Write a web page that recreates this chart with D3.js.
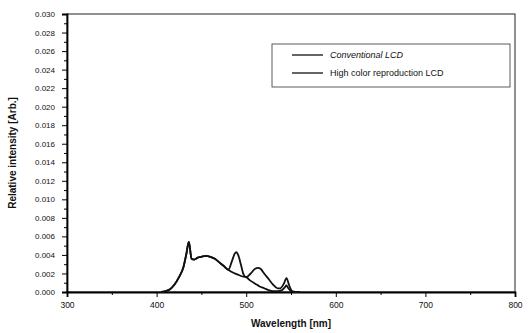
<!DOCTYPE html>
<html>
<head>
<meta charset="utf-8">
<script src="https://cdn.jsdelivr.net/npm/d3@7"></script>
<style>
  body { margin: 0; background: #fff; }
  text { font-family: Arial, "Liberation Sans", sans-serif; fill: #111; }
</style>
</head>
<body>
<div id="graph"></div>
<script>
//series data (wavelength in nm, intensity in Arb.)
let convWl  = [405, 410, 415, 420, 425, 430, 433, 436, 439, 442, 446, 450, 455, 460, 465, 470, 475, 480, 485, 490, 495, 500, 505, 510, 515, 520, 525, 530, 535, 540, 543, 545, 547, 550, 555, 560];
let convVal = [0, 0.0001, 0.0003, 0.0008, 0.0016, 0.0027, 0.0040, 0.0054, 0.0036, 0.0035, 0.0037, 0.0038, 0.0039, 0.0038, 0.0036, 0.0032, 0.0028, 0.0024, 0.0021, 0.0019, 0.0017, 0.0016, 0.0012, 0.0009, 0.0006, 0.0004, 0.0002, 0.0001, 0.0001, 0.0002, 0.0005, 0.0007, 0.0004, 0.0001, 0, 0];

let highWl  = [405, 410, 415, 420, 425, 430, 433, 436, 439, 442, 446, 450, 455, 460, 465, 470, 475, 480, 484, 487, 489, 491, 494, 497, 500, 505, 510, 513, 516, 520, 525, 530, 535, 538, 542, 545, 548, 551, 555, 560];
let highVal = [0, 0.0001, 0.0003, 0.0008, 0.0016, 0.0027, 0.0040, 0.0054, 0.0036, 0.0035, 0.0037, 0.0038, 0.0039, 0.0038, 0.0036, 0.0032, 0.0028, 0.0024, 0.0033, 0.0041, 0.0043, 0.0040, 0.0030, 0.0019, 0.0016, 0.0020, 0.0025, 0.0026, 0.0025, 0.0020, 0.0014, 0.0008, 0.0004, 0.0004, 0.0009, 0.0015, 0.0007, 0.0001, 0, 0];

let seriesNames = ["Conventional LCD", "High color reproduction LCD"];
let xTicks = [300, 400, 500, 600, 700, 800];
let yTicks = [0, 0.002, 0.004, 0.006, 0.008, 0.010, 0.012, 0.014, 0.016, 0.018, 0.020, 0.022, 0.024, 0.026, 0.028, 0.030];

let width = 528, height = 333;
let margin = {top: 14, right: 13, bottom: 41, left: 67};
let plotW = width - margin.left - margin.right;
let plotH = height - margin.top - margin.bottom;

let svg = d3.select("#graph")
    .append("svg")
    .attr("width", width)
    .attr("height", height)
    .append("g")
    .attr("transform", `translate(${margin.left},${margin.top})`);

//scales
let x = d3.scaleLinear().domain([300, 800]).range([0, plotW]);
let y = d3.scaleLinear().domain([0, 0.030]).range([plotH, 0]);

//frame (top and right)
svg.append("rect")
    .attr("width", plotW)
    .attr("height", plotH)
    .attr("fill", "none")
    .attr("stroke", "#222")
    .attr("stroke-width", 1);

//minor ticks
svg.append("g")
    .attr("transform", `translate(0,${plotH})`)
    .call(d3.axisBottom(x).tickValues(d3.range(350, 800, 100)).tickSize(3).tickFormat(""))
    .call(g => g.select(".domain").remove());
svg.append("g")
    .call(d3.axisLeft(y).tickValues(d3.range(0.001, 0.030, 0.002)).tickSize(3).tickFormat(""))
    .call(g => g.select(".domain").remove());

//x axis
svg.append("g")
    .attr("transform", `translate(0,${plotH})`)
    .call(d3.axisBottom(x).tickValues(xTicks).tickSize(5).tickPadding(5).tickFormat(d3.format("d")))
    .call(g => g.select(".domain").attr("stroke-width", 1.8))
    .call(g => g.selectAll("text").style("font-size", "8.5px"));

//y axis
svg.append("g")
    .call(d3.axisLeft(y).tickValues(yTicks).tickSize(5).tickPadding(7).tickFormat(d3.format(".3f")))
    .call(g => g.select(".domain").attr("stroke-width", 1.8))
    .call(g => g.selectAll("text").style("font-size", "8px"));

//lines
let line = d3.line()
    .x(d => x(d[0]))
    .y(d => y(d[1]))
    .curve(d3.curveMonotoneX);

svg.append("path")
    .datum(d3.zip(convWl, convVal))
    .attr("fill", "none")
    .attr("stroke", "#111")
    .attr("stroke-width", 1.8)
    .attr("d", line);

svg.append("path")
    .datum(d3.zip(highWl, highVal))
    .attr("fill", "none")
    .attr("stroke", "#111")
    .attr("stroke-width", 1.8)
    .attr("d", line);

//legend
let legend = svg.append("g")
    .attr("transform", `translate(${272 - margin.left},${44 - margin.top})`);

legend.append("rect")
    .attr("width", 238)
    .attr("height", 43)
    .attr("fill", "none")
    .attr("stroke", "#333")
    .attr("stroke-width", 0.8);

seriesNames.forEach(function(name, i) {
    legend.append("line")
        .attr("x1", 20).attr("x2", 51)
        .attr("y1", 11 + i * 18).attr("y2", 11 + i * 18)
        .attr("stroke", "#111")
        .attr("stroke-width", 1.3);
    legend.append("text")
        .attr("x", 58)
        .attr("y", 14 + i * 18)
        .style("font-size", "9px")
        .style("font-style", i == 0 ? "italic" : "normal")
        .text(name);
});

//x label
svg.append("text")
    .attr("x", x(550))
    .attr("y", plotH + 35)
    .style("text-anchor", "middle")
    .style("font-size", "10px")
    .style("font-weight", "bold")
    .text("Wavelength [nm]");

//y label
svg.append("text")
    .attr("transform", `translate(${16 - margin.left},${153 - margin.top}) rotate(-90)`)
    .style("text-anchor", "middle")
    .style("font-size", "10px")
    .style("font-weight", "bold")
    .text("Relative intensity [Arb.]");
</script>
</body>
</html>
